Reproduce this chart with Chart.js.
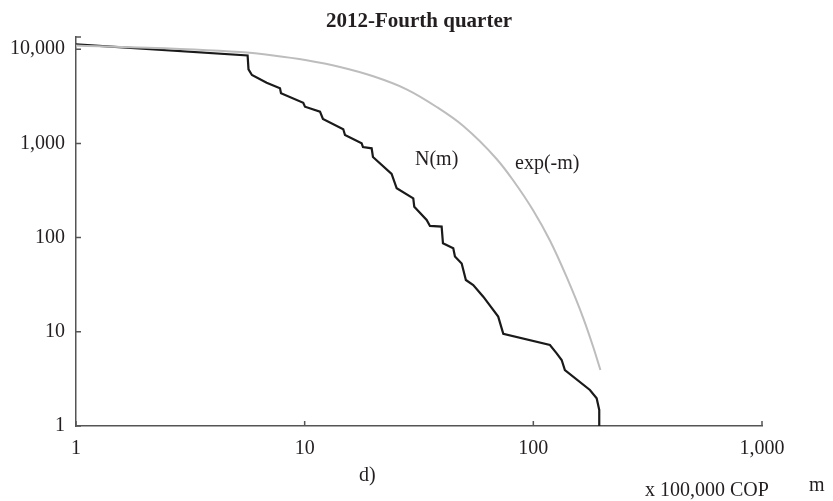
<!DOCTYPE html>
<html>
<head>
<meta charset="utf-8">
<script src="https://cdn.jsdelivr.net/npm/chart.js@4"></script>
<style>
  html, body { margin: 0; padding: 0; background: #fff; }
</style>
</head>
<body>
<canvas id="chart" width="833" height="501"></canvas>
<script>
// Data (log-log)
const nmX = [1, 5.63, 5.68, 5.88, 6.82, 7.80, 7.88, 9.86, 10.03, 11.67, 12.02, 14.75, 15.01, 17.75, 17.99, 19.63, 19.89, 24.0, 25.26, 29.85, 30.15, 34.16, 35.31, 39.72, 40.25, 44.65, 45.42, 48.6, 50.7, 54.6, 60.4, 70.2, 73.9, 118.2, 126.5, 133.0, 137.4, 176.8, 189.2, 194.2, 194.2];
const nmY = [11270, 8575, 6120, 5320, 4410, 3845, 3403, 2704, 2453, 2172, 1815, 1412, 1228, 1002, 916, 887, 717, 475, 334, 261, 213, 154, 133, 131, 87, 77, 63, 53, 35.5, 31.4, 23.6, 14.5, 9.5, 7.24, 5.91, 5.02, 3.93, 2.41, 1.97, 1.48, 1];

const expX = [1, 5.21, 7.29, 10.2, 14.27, 19.95, 27.9, 37.8, 49.4, 69.1, 81.7, 99.9, 118.2, 139.8, 165.3, 182.8, 196.5];
const expY = [10950, 9316, 8575, 7625, 6472, 5156, 3752, 2435, 1530, 683, 404, 194, 93.2, 38.2, 14.0, 6.9, 3.93];

const xTicks = [1, 10, 100, 1000];
const yTicks = [1, 10, 100, 1000, 10000];

const axisColor = '#555555';
const textColor = '#231f20';
const serif = '"Liberation Serif", "Times New Roman", serif';

function toPoints(xs, ys) {
    return xs.map((x, i) => ({ x: x, y: ys[i] }));
}

// Ticks drawn inward + free text labels
const decorPlugin = {
    id: 'decor',
    afterDraw(chart) {
        const ctx = chart.ctx;
        const xs = chart.scales.x;
        const ys = chart.scales.y;
        const area = chart.chartArea;
        ctx.save();
        ctx.strokeStyle = axisColor;
        ctx.lineWidth = 1.5;
        ctx.beginPath();
        xTicks.forEach(v => {
            const px = xs.getPixelForValue(v);
            ctx.moveTo(px, area.bottom);
            ctx.lineTo(px, area.bottom - 5);
        });
        yTicks.concat([ys.max]).forEach(v => {
            const py = ys.getPixelForValue(v);
            ctx.moveTo(area.left, py);
            ctx.lineTo(area.left + 5, py);
        });
        ctx.stroke();

        ctx.fillStyle = textColor;
        ctx.textBaseline = 'alphabetic';
        ctx.textAlign = 'center';
        ctx.font = 'bold 21px ' + serif;
        ctx.fillText('2012-Fourth quarter', 419, 27);

        ctx.textAlign = 'left';
        ctx.font = '20px ' + serif;
        ctx.fillText('N(m)', 415, 165);
        ctx.fillText('exp(-m)', 515, 169);
        ctx.fillText('d)', 359, 481);
        ctx.fillText('x 100,000 COP', 645, 496);
        ctx.fillText('m', 809, 491);
        ctx.restore();
    }
};

new Chart(document.getElementById('chart'), {
    type: 'scatter',
    data: {
        datasets: [
            {
                label: 'exp(-m)',
                data: toPoints(expX, expY),
                showLine: true,
                borderColor: '#bdbdbd',
                borderWidth: 2,
                pointRadius: 0,
                cubicInterpolationMode: 'monotone'
            },
            {
                label: 'N(m)',
                data: toPoints(nmX, nmY),
                showLine: true,
                borderColor: '#1a1a1a',
                borderWidth: 2.2,
                pointRadius: 0,
                tension: 0
            }
        ]
    },
    options: {
        responsive: false,
        animation: false,
        layout: { padding: { top: 37, right: 71, left: 0, bottom: 0 } },
        plugins: {
            legend: { display: false },
            tooltip: { enabled: false },
            title: { display: false }
        },
        scales: {
            x: {
                type: 'logarithmic',
                min: 1,
                max: 1000,
                afterBuildTicks: s => { s.ticks = xTicks.map(v => ({ value: v })); },
                afterFit: s => { s.height = 75; },
                grid: { display: false, drawTicks: false },
                border: { display: true, color: axisColor, width: 1.5 },
                ticks: {
                    autoSkip: false,
                    maxRotation: 0,
                    padding: 11,
                    color: textColor,
                    font: { family: serif, size: 20 },
                    callback: v => v.toLocaleString('en-US')
                }
            },
            y: {
                type: 'logarithmic',
                min: 1,
                max: 13480,
                afterBuildTicks: s => { s.ticks = yTicks.map(v => ({ value: v })); },
                afterFit: s => { s.width = 76; },
                grid: { display: false, drawTicks: false },
                border: { display: true, color: axisColor, width: 1.5 },
                ticks: {
                    autoSkip: false,
                    padding: 11,
                    color: textColor,
                    font: { family: serif, size: 20 },
                    callback: v => v.toLocaleString('en-US')
                }
            }
        }
    },
    plugins: [decorPlugin]
});
</script>
</body>
</html>
